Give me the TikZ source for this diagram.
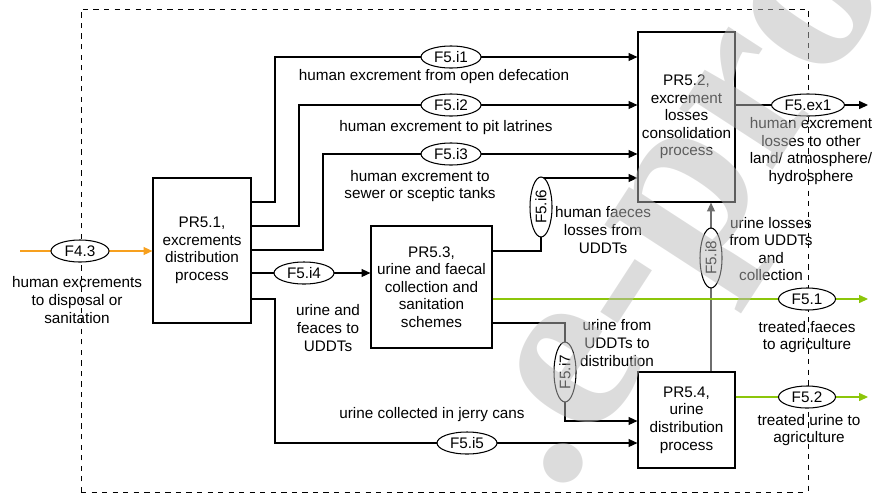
\documentclass[tikz,border=0pt]{standalone}
\usepackage{fontspec}
\setmainfont{Liberation Sans}
\newfontfamily\markfont{Liberation Serif}
\usetikzlibrary{arrows.meta,shapes.geometric,positioning}

\definecolor{inflow}{RGB}{247,160,30}
\definecolor{outflow}{RGB}{140,198,10}
\definecolor{lossflow}{RGB}{110,110,110}

\begin{document}
\begin{tikzpicture}[x=0.02cm, y=-0.02cm, line width=0.6pt,
    font=\fontsize{8.7}{10}\selectfont,
    proc/.style={draw, line width=0.7pt, align=center, inner sep=0pt},
    tag/.style={ellipse, draw, fill=white, inner sep=0pt, minimum width=1.2cm, minimum height=0.44cm},
    vtag/.style={tag, rotate=90},
    lbl/.style={align=center, inner sep=0pt},
    flow/.style={-{Triangle[length=5pt,width=4.5pt]}}]
  \useasboundingbox (0,0) rectangle (874,494);

  % system boundary
  \draw[dashed, line width=0.5pt] (81,492) -- (81,9) -- (808,9) -- (808,494);
  \draw[dashed, line width=0.5pt] (81,492) -- (808,492);

  % processes
  \node[proc, minimum width=1.96cm, minimum height=2.9cm] (pr51) at (202,250.5)
    {PR5.1,\\excrements\\distribution\\process};
  \node[proc, minimum width=1.94cm, minimum height=3.4cm] (pr52) at (686.5,117)
    {PR5.2,\\excrement\\losses\\consolidation\\process};
  \node[proc, minimum width=2.42cm, minimum height=2.44cm] (pr53) at (431.5,287)
    {PR5.3,\\urine and faecal\\collection and\\sanitation\\schemes};
  \node[proc, minimum width=1.94cm, minimum height=1.92cm] (pr54) at (686.5,420)
    {PR5.4,\\urine\\distribution\\process};

  \coordinate (src) at (20,251);
  \coordinate (sinkex) at (868,105);
  \coordinate (sinka) at (868,299);
  \coordinate (sinkb) at (868,397);

  % flows
  \draw[flow, inflow] (src) -- (src -| pr51.west);
  \draw[flow] (pr51.east |- 0,202) -| (275,57) -- (pr52.west |- 0,57);
  \draw[flow] (pr51.east |- 0,226) -| (299,105) -- (pr52.west |- 0,105);
  \draw[flow] (pr51.east |- 0,250) -| (323,154) -- (pr52.west |- 0,154);
  \draw[flow] (pr51.east |- 0,273) -- (pr53.west |- 0,273);
  \draw[flow] (pr51.east |- 0,299) -| (275,443) -- (pr54.west |- 0,443);
  \draw[flow] (pr53.east |- 0,251) -| (541,178) -- (pr52.west |- 0,178);
  \draw[flow] (pr53.east |- 0,323) -| (565,421) -- (pr54.west |- 0,421);
  \draw[flow, lossflow] (pr54.north -| 711,0) -- (pr52.south -| 711,0);
  \draw[flow] (pr52.east |- sinkex) -- (sinkex);
  \draw[flow, outflow] (pr53.east |- sinka) -- (sinka);
  \draw[flow, outflow] (pr54.east |- sinkb) -- (sinkb);

  % flow tags
  \node[tag, minimum width=1.16cm] (f43) at (80,251) {F4.3};
  \node[tag] (fi1) at (451,57) {F5.i1};
  \node[tag] (fi2) at (451,105) {F5.i2};
  \node[tag] (fi3) at (451,154) {F5.i3};
  \node[tag] (fi4) at (304,273) {F5.i4};
  \node[tag] (fi5) at (467,443) {F5.i5};
  \node[vtag] (fi6) at (541,207) {F5.i6};
  \node[vtag] (fi7) at (565,372) {F5.i7};
  \node[vtag] (fi8) at (711,258) {F5.i8};
  \node[tag, minimum width=1.46cm] (fex1) at (808,105) {F5.ex1};
  \node[tag, minimum width=1.14cm] (f51) at (807,299) {F5.1};
  \node[tag, minimum width=1.14cm] (f52) at (807,397) {F5.2};

  % flow texts
  \node[lbl] at (77,300) {human excrements\\to disposal or\\sanitation};
  \node[lbl] at (434,77) {human excrement from open defecation};
  \node[lbl] at (446,128) {human excrement to pit latrines};
  \node[lbl] at (420,186) {human excrement to\\sewer or sceptic tanks};
  \node[lbl] at (328,328) {urine and\\feaces to\\UDDTs};
  \node[lbl] at (603,230) {human faeces\\losses from\\UDDTs};
  \node[lbl] at (617,343) {urine from\\UDDTs to\\distribution};
  \node[lbl] at (771,249) {urine losses\\from UDDTs\\and\\collection};
  \node[lbl] at (811,151) {human excrement\\losses to other\\land/ atmosphere/\\hydrosphere};
  \node[lbl] at (807,337) {treated faeces\\to agriculture};
  \node[lbl] at (809,430) {treated urine to\\agriculture};
  \node[lbl] at (432,415) {urine collected in jerry cans};

  % watermark
  \node[rotate=57, text=black!27, opacity=0.5, inner sep=0pt,
    font=\markfont\bfseries\fontsize{138}{138}\selectfont] at (700,225) {.e-pro};
\end{tikzpicture}
\end{document}
